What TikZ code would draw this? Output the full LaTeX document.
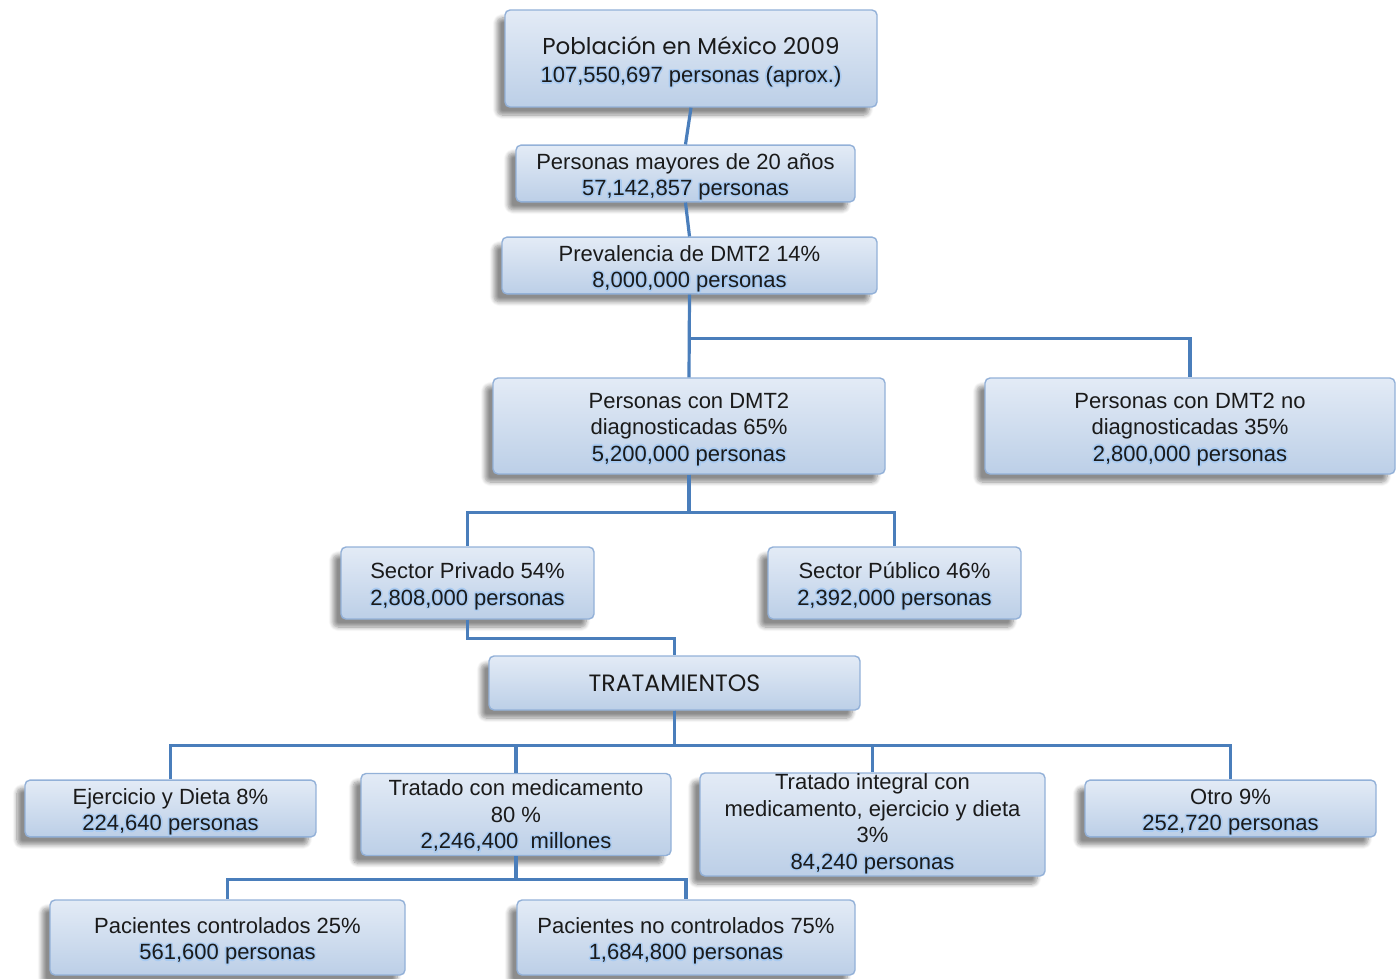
\documentclass[tikz,border=0pt]{standalone}
\usepackage{fontspec}
\setmainfont{Liberation Sans}
\newfontfamily\titlefont{Poppins}
\usetikzlibrary{shadows,shadows.blur}
\definecolor{connc}{HTML}{4A7EBB}
\definecolor{boxedge}{HTML}{93B1D8}
\definecolor{boxtop}{HTML}{E3EBF6}
\definecolor{boxbot}{HTML}{BCCFE7}
\definecolor{glowc}{HTML}{A9CBF2}
\definecolor{txt}{HTML}{1A1A1A}
\newcommand\tp{\rule{0pt}{12pt}}
\newcommand\glw[1]{\leavevmode
  \rlap{\textcolor{glowc}{\kern0.8pt#1}}%
  \rlap{\textcolor{glowc}{\kern-0.8pt#1}}%
  \rlap{\raisebox{0.8pt}{\textcolor{glowc}{#1}}}%
  \rlap{\raisebox{-0.8pt}{\textcolor{glowc}{#1}}}%
  \rlap{\raisebox{0.6pt}{\textcolor{glowc}{\kern0.6pt#1}}}%
  \rlap{\raisebox{-0.6pt}{\textcolor{glowc}{\kern-0.6pt#1}}}%
  \rlap{\raisebox{0.6pt}{\textcolor{glowc}{\kern-0.6pt#1}}}%
  \rlap{\raisebox{-0.6pt}{\textcolor{glowc}{\kern0.6pt#1}}}%
  #1}
\begin{document}
\begin{tikzpicture}[x=0.5pt,y=-0.5pt,
  box/.style={rectangle, rounded corners=2.5pt, draw=boxedge, line width=0.7pt,
    top color=boxtop, bottom color=boxbot, text=txt, align=center,
    inner sep=0pt, font=\fontsize{11}{13.3}\selectfont,
    blur shadow={shadow xshift=-4pt, shadow yshift=-4pt, shadow blur steps=8, shadow opacity=45}},
  conn/.style={draw=connc, line width=1.6pt}]
\useasboundingbox (0,0) rectangle (1398,979);

\node[box, minimum width=186pt, minimum height=48.5pt] (b1) at (691,58.5)
  {\rule{0pt}{13pt}{\titlefont\fontsize{11.5}{14}\selectfont Población en México 2009}\\[1pt]\glw{107,550,697 personas (aprox.)}};
\node[box, minimum width=169.5pt, minimum height=27.5pt] (b2) at (685.5,173.5)
  {\tp Personas mayores de 20 años\\\glw{57,142,857 personas}};
\node[box, minimum width=187.5pt, minimum height=27.5pt] (b3) at (689.5,265.5)
  {\tp Prevalencia de DMT2 14\%\\\glw{8,000,000 personas}};
\node[box, minimum width=196pt, minimum height=48pt] (b4) at (689,426)
  {\tp Personas con DMT2\\diagnosticadas 65\%\\\glw{5,200,000 personas}};
\node[box, minimum width=205pt, minimum height=48pt] (b5) at (1190,426)
  {\tp Personas con DMT2 no\\diagnosticadas 35\%\\\glw{2,800,000 personas}};
\node[box, minimum width=126.5pt, minimum height=36pt] (b6) at (467.5,583)
  {\tp Sector Privado 54\%\\\glw{2,808,000 personas}};
\node[box, minimum width=126.5pt, minimum height=36pt] (b7) at (894.5,583)
  {\tp Sector Público 46\%\\\glw{2,392,000 personas}};
\node[box, minimum width=185.5pt, minimum height=27pt, font=\titlefont\fontsize{11.8}{13}\selectfont] (b8) at (674.5,683)
  {TRATAMIENTOS};
\node[box, minimum width=145.5pt, minimum height=27.5pt] (b9) at (170.5,808.5)
  {\tp Ejercicio y Dieta 8\%\\\glw{224,640 personas}};
\node[box, minimum width=155pt, minimum height=41pt] (b10) at (516,814.5)
  {\rule{0pt}{10pt}Tratado con medicamento\\80 \%\\\glw{2,246,400\ \ millones}};
\node[box, minimum width=172.5pt, minimum height=51.5pt] (b11) at (872.5,824.5)
  {Tratado integral con\\medicamento, ejercicio y dieta\\3\%\\\glw{84,240 personas}};
\node[box, minimum width=145.5pt, minimum height=27.5pt] (b12) at (1230.5,808.5)
  {\tp Otro 9\%\\\glw{252,720 personas}};
\node[box, minimum width=177.5pt, minimum height=37.5pt] (b13) at (227.5,937.5)
  {\tp Pacientes controlados 25\%\\\glw{561,600 personas}};
\node[box, minimum width=169pt, minimum height=37.5pt] (b14) at (686,937.5)
  {\tp Pacientes no controlados 75\%\\\glw{1,684,800 personas}};

\draw[conn] (b1.south) -- (b2.north);
\draw[conn] (b2.south) -- (b3.north);
\draw[conn] (b3.south) -- (b4.north);
\draw[conn] (b3.south) -- ++(0,44) -| (b5.north);
\draw[conn] (b4.south) -- ++(0,38) -| (b6.north);
\draw[conn] (b4.south) -- ++(0,38) -| (b7.north);
\draw[conn] (b6.south) -- ++(0,19) -| (b8.north);
\draw[conn] (b8.south) -- ++(0,35) -| (b9.north);
\draw[conn] (b8.south) -- ++(0,35) -| (b10.north);
\draw[conn] (b8.south) -- ++(0,35) -| (b11.north);
\draw[conn] (b8.south) -- ++(0,35) -| (b12.north);
\draw[conn] (b10.south) -- ++(0,23) -| (b13.north);
\draw[conn] (b10.south) -- ++(0,23) -| (b14.north);
\end{tikzpicture}
\end{document}
